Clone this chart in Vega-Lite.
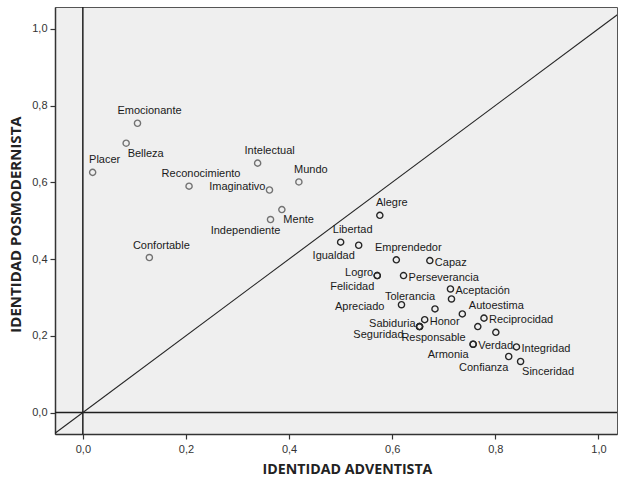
{
  "$schema": "https://vega.github.io/schema/vega-lite/v6.json",
  "width": 562,
  "height": 427,
  "autosize": {"type": "none"},
  "padding": {"left": 55, "top": 7, "right": 1, "bottom": 43},
  "background": "#ffffff",
  "config": {
    "view": {"fill": "#efefef", "stroke": "#555555", "strokeWidth": 1},
    "text": {"font": "Liberation Sans", "fontSize": 11, "fill": "#1a1a1a"},
    "axis": {
      "grid": false,
      "labelFlush": false,
      "domainColor": "#333333", "domainWidth": 1.5,
      "tickColor": "#333333", "tickSize": 5, "tickWidth": 1.2,
      "labelFont": "Liberation Sans", "labelFontSize": 11, "labelColor": "#333333",
      "titleFont": "Open Sans", "titleFontWeight": "bold", "titleFontSize": 15, "titleColor": "#222222",
      "titleBaseline": "middle"
    },
    "axisX": {"labelPadding": 4, "titleX": 292, "titleY": 35, "titleFontSize": 14.2},
    "axisY": {"labelPadding": 3, "titleX": -40, "titleY": 217, "titleAngle": -90}
  },
  "datasets": {
    "valores": [
      {"termino": "Emocionante", "adventista": 0.106, "posmodernista": 0.754, "lado": "n", "grupo": "P"},
      {"termino": "Belleza", "adventista": 0.084, "posmodernista": 0.702, "lado": "se", "grupo": "P"},
      {"termino": "Placer", "adventista": 0.019, "posmodernista": 0.626, "lado": "n", "grupo": "P"},
      {"termino": "Reconocimiento", "adventista": 0.206, "posmodernista": 0.590, "lado": "n", "grupo": "P"},
      {"termino": "Intelectual", "adventista": 0.339, "posmodernista": 0.650, "lado": "n", "grupo": "P"},
      {"termino": "Mundo", "adventista": 0.419, "posmodernista": 0.601, "lado": "n", "grupo": "P"},
      {"termino": "Imaginativo", "adventista": 0.362, "posmodernista": 0.580, "lado": "w", "grupo": "P"},
      {"termino": "Mente", "adventista": 0.386, "posmodernista": 0.529, "lado": "se", "grupo": "P"},
      {"termino": "Independiente", "adventista": 0.364, "posmodernista": 0.503, "lado": "sw", "grupo": "P"},
      {"termino": "Confortable", "adventista": 0.129, "posmodernista": 0.404, "lado": "n", "grupo": "P"},
      {"termino": "Alegre", "adventista": 0.576, "posmodernista": 0.514, "lado": "n", "grupo": "A"},
      {"termino": "Libertad", "adventista": 0.500, "posmodernista": 0.444, "lado": "n", "grupo": "A"},
      {"termino": "Igualdad", "adventista": 0.535, "posmodernista": 0.436, "lado": "sw", "grupo": "A"},
      {"termino": "Emprendedor", "adventista": 0.608, "posmodernista": 0.398, "lado": "n", "grupo": "A"},
      {"termino": "Capaz", "adventista": 0.673, "posmodernista": 0.396, "lado": "e", "grupo": "A"},
      {"termino": "Logro", "adventista": 0.571, "posmodernista": 0.357, "lado": "w", "grupo": "A"},
      {"termino": "Felicidad", "adventista": 0.571, "posmodernista": 0.357, "lado": "sw", "grupo": "A"},
      {"termino": "Perseverancia", "adventista": 0.622, "posmodernista": 0.357, "lado": "e", "grupo": "A"},
      {"termino": "Aceptación", "adventista": 0.713, "posmodernista": 0.322, "lado": "e", "grupo": "A"},
      {"termino": "", "adventista": 0.715, "posmodernista": 0.296, "lado": "none", "grupo": "A"},
      {"termino": "Apreciado", "adventista": 0.618, "posmodernista": 0.281, "lado": "wf", "grupo": "A"},
      {"termino": "Tolerancia", "adventista": 0.683, "posmodernista": 0.270, "lado": "nw", "grupo": "A"},
      {"termino": "Autoestima", "adventista": 0.736, "posmodernista": 0.257, "lado": "ne", "grupo": "A"},
      {"termino": "Honor", "adventista": 0.663, "posmodernista": 0.242, "lado": "e", "grupo": "A"},
      {"termino": "Sabiduria", "adventista": 0.653, "posmodernista": 0.224, "lado": "w", "grupo": "A"},
      {"termino": "Seguridad", "adventista": 0.653, "posmodernista": 0.224, "lado": "swf", "grupo": "A"},
      {"termino": "Responsable", "adventista": 0.653, "posmodernista": 0.224, "lado": "s", "grupo": "A"},
      {"termino": "Reciprocidad", "adventista": 0.778, "posmodernista": 0.246, "lado": "e", "grupo": "A"},
      {"termino": "", "adventista": 0.766, "posmodernista": 0.224, "lado": "none", "grupo": "A"},
      {"termino": "", "adventista": 0.801, "posmodernista": 0.209, "lado": "none", "grupo": "A"},
      {"termino": "Verdad", "adventista": 0.757, "posmodernista": 0.178, "lado": "e", "grupo": "A"},
      {"termino": "Armonia", "adventista": 0.757, "posmodernista": 0.178, "lado": "sw", "grupo": "A"},
      {"termino": "Integridad", "adventista": 0.841, "posmodernista": 0.171, "lado": "e", "grupo": "A"},
      {"termino": "Confianza", "adventista": 0.826, "posmodernista": 0.146, "lado": "sw", "grupo": "A"},
      {"termino": "Sinceridad", "adventista": 0.849, "posmodernista": 0.133, "lado": "se", "grupo": "A"}
    ]
  },
  "layer": [
    {
      "data": {"name": "valores"},
      "mark": {"type": "point", "shape": "circle", "filled": false, "size": 38, "strokeWidth": 1.4, "opacity": 1},
      "encoding": {
        "x": {
          "field": "adventista", "type": "quantitative", "title": "IDENTIDAD ADVENTISTA",
          "scale": {"domain": [-0.054, 1.036], "nice": false, "zero": false},
          "axis": {"values": [0, 0.2, 0.4, 0.6, 0.8, 1.0], "labelExpr": "replace(format(datum.value, '.1f'), '.', ',')"}
        },
        "y": {
          "field": "posmodernista", "type": "quantitative", "title": "IDENTIDAD POSMODERNISTA",
          "scale": {"domain": [-0.056, 1.057], "nice": false, "zero": false},
          "axis": {"values": [0, 0.2, 0.4, 0.6, 0.8, 1.0], "labelExpr": "replace(format(datum.value, '.1f'), '.', ',')"}
        },
        "color": {
          "field": "grupo", "type": "nominal",
          "scale": {"domain": ["P", "A"], "range": ["#727272", "#262626"]},
          "legend": null
        }
      }
    },
    {
      "data": {"values": [{}]},
      "mark": {"type": "rule", "color": "#1f1f1f", "strokeWidth": 1.5},
      "encoding": {
        "x": {"datum": 0, "type": "quantitative", "title": "IDENTIDAD ADVENTISTA"}
      }
    },
    {
      "data": {"values": [{}]},
      "mark": {"type": "rule", "color": "#1f1f1f", "strokeWidth": 1.5},
      "encoding": {
        "y": {"datum": 0, "type": "quantitative", "title": "IDENTIDAD POSMODERNISTA"}
      }
    },
    {
      "data": {"values": [{}]},
      "mark": {"type": "rule", "color": "#262626", "strokeWidth": 1.1, "clip": true},
      "encoding": {
        "x": {"datum": -0.06, "type": "quantitative", "title": "IDENTIDAD ADVENTISTA"},
        "y": {"datum": -0.06, "type": "quantitative", "title": "IDENTIDAD POSMODERNISTA"},
        "x2": {"datum": 1.04},
        "y2": {"datum": 1.04}
      }
    },
    {
      "data": {"name": "valores"},
      "transform": [{"filter": "datum.lado == 'n'"}],
      "mark": {"type": "text", "align": "center", "baseline": "middle", "dx": 12, "dy": -12},
      "encoding": {
        "x": {"field": "adventista", "type": "quantitative", "title": "IDENTIDAD ADVENTISTA"},
        "y": {"field": "posmodernista", "type": "quantitative", "title": "IDENTIDAD POSMODERNISTA"},
        "text": {"field": "termino"}
      }
    },
    {
      "data": {"name": "valores"},
      "transform": [{"filter": "datum.lado == 'nw'"}],
      "mark": {"type": "text", "align": "center", "baseline": "middle", "dx": -25, "dy": -12},
      "encoding": {
        "x": {"field": "adventista", "type": "quantitative", "title": "IDENTIDAD ADVENTISTA"},
        "y": {"field": "posmodernista", "type": "quantitative", "title": "IDENTIDAD POSMODERNISTA"},
        "text": {"field": "termino"}
      }
    },
    {
      "data": {"name": "valores"},
      "transform": [{"filter": "datum.lado == 'sw'"}],
      "mark": {"type": "text", "align": "center", "baseline": "middle", "dx": -25, "dy": 11},
      "encoding": {
        "x": {"field": "adventista", "type": "quantitative", "title": "IDENTIDAD ADVENTISTA"},
        "y": {"field": "posmodernista", "type": "quantitative", "title": "IDENTIDAD POSMODERNISTA"},
        "text": {"field": "termino"}
      }
    },
    {
      "data": {"name": "valores"},
      "transform": [{"filter": "datum.lado == 's'"}],
      "mark": {"type": "text", "align": "center", "baseline": "middle", "dx": 14, "dy": 11},
      "encoding": {
        "x": {"field": "adventista", "type": "quantitative", "title": "IDENTIDAD ADVENTISTA"},
        "y": {"field": "posmodernista", "type": "quantitative", "title": "IDENTIDAD POSMODERNISTA"},
        "text": {"field": "termino"}
      }
    },
    {
      "data": {"name": "valores"},
      "transform": [{"filter": "datum.lado == 'se'"}],
      "mark": {"type": "text", "align": "left", "baseline": "middle", "dx": 1.5, "dy": 10.5},
      "encoding": {
        "x": {"field": "adventista", "type": "quantitative", "title": "IDENTIDAD ADVENTISTA"},
        "y": {"field": "posmodernista", "type": "quantitative", "title": "IDENTIDAD POSMODERNISTA"},
        "text": {"field": "termino"}
      }
    },
    {
      "data": {"name": "valores"},
      "transform": [{"filter": "datum.lado == 'e'"}],
      "mark": {"type": "text", "align": "left", "baseline": "middle", "dx": 5, "dy": 2},
      "encoding": {
        "x": {"field": "adventista", "type": "quantitative", "title": "IDENTIDAD ADVENTISTA"},
        "y": {"field": "posmodernista", "type": "quantitative", "title": "IDENTIDAD POSMODERNISTA"},
        "text": {"field": "termino"}
      }
    },
    {
      "data": {"name": "valores"},
      "transform": [{"filter": "datum.lado == 'ne'"}],
      "mark": {"type": "text", "align": "left", "baseline": "middle", "dx": 6.5, "dy": -7.5},
      "encoding": {
        "x": {"field": "adventista", "type": "quantitative", "title": "IDENTIDAD ADVENTISTA"},
        "y": {"field": "posmodernista", "type": "quantitative", "title": "IDENTIDAD POSMODERNISTA"},
        "text": {"field": "termino"}
      }
    },
    {
      "data": {"name": "valores"},
      "transform": [{"filter": "datum.lado == 'w'"}],
      "mark": {"type": "text", "align": "right", "baseline": "middle", "dx": -4, "dy": -3},
      "encoding": {
        "x": {"field": "adventista", "type": "quantitative", "title": "IDENTIDAD ADVENTISTA"},
        "y": {"field": "posmodernista", "type": "quantitative", "title": "IDENTIDAD POSMODERNISTA"},
        "text": {"field": "termino"}
      }
    },
    {
      "data": {"name": "valores"},
      "transform": [{"filter": "datum.lado == 'wf'"}],
      "mark": {"type": "text", "align": "right", "baseline": "middle", "dx": -17, "dy": 2},
      "encoding": {
        "x": {"field": "adventista", "type": "quantitative", "title": "IDENTIDAD ADVENTISTA"},
        "y": {"field": "posmodernista", "type": "quantitative", "title": "IDENTIDAD POSMODERNISTA"},
        "text": {"field": "termino"}
      }
    },
    {
      "data": {"name": "valores"},
      "transform": [{"filter": "datum.lado == 'swf'"}],
      "mark": {"type": "text", "align": "right", "baseline": "middle", "dx": -16, "dy": 8},
      "encoding": {
        "x": {"field": "adventista", "type": "quantitative", "title": "IDENTIDAD ADVENTISTA"},
        "y": {"field": "posmodernista", "type": "quantitative", "title": "IDENTIDAD POSMODERNISTA"},
        "text": {"field": "termino"}
      }
    }
  ]
}
